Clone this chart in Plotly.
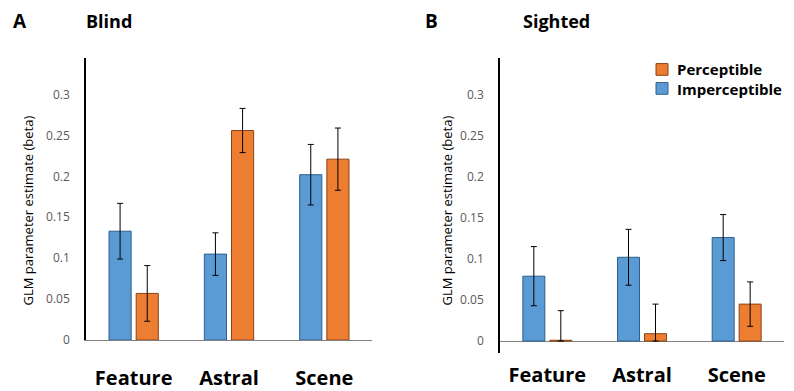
import plotly.graph_objects as go

categories = ["Feature", "Astral", "Scene"]

# Panel A - Blind
blind_imperceptible = [0.133, 0.105, 0.202]
blind_imperceptible_err = [0.034, 0.026, 0.037]
blind_perceptible = [0.057, 0.256, 0.221]
blind_perceptible_err = [0.034, 0.027, 0.038]

# Panel B - Sighted
sighted_imperceptible = [0.079, 0.102, 0.126]
sighted_imperceptible_err = [0.036, 0.034, 0.028]
sighted_perceptible = [0.001, 0.009, 0.045]
sighted_perceptible_err = [0.036, 0.036, 0.027]

yticks = [0, 0.05, 0.1, 0.15, 0.2, 0.25, 0.3]
ytick_labels = ["0", "0.05", "0.1", "0.15", "0.2", "0.25", "0.3"]

legend_names = ["Perceptible", "Imperceptible"]

BLUE = "#5B9BD5"
ORANGE = "#ED7D31"
BLUE_LINE = "#2F5F8A"
ORANGE_LINE = "#8A4317"

W, H = 794, 391


def minus(vals, errs):
    return [min(v, e) for v, e in zip(vals, errs)]


fig = go.Figure()


def add_pair(imp, imp_err, per, per_err, xa, ya):
    fig.add_trace(go.Bar(
        x=categories, y=imp, name="Imperceptible", xaxis=xa, yaxis=ya,
        marker=dict(color=BLUE, line=dict(color=BLUE_LINE, width=1)),
        error_y=dict(type="data", array=imp_err, arrayminus=minus(imp, imp_err),
                     symmetric=False, color="black", thickness=1, width=3),
        showlegend=False))
    fig.add_trace(go.Bar(
        x=categories, y=per, name="Perceptible", xaxis=xa, yaxis=ya,
        marker=dict(color=ORANGE, line=dict(color=ORANGE_LINE, width=1)),
        error_y=dict(type="data", array=per_err, arrayminus=minus(per, per_err),
                     symmetric=False, color="black", thickness=1, width=3),
        showlegend=False))


add_pair(blind_imperceptible, blind_imperceptible_err, blind_perceptible,
         blind_perceptible_err, "x", "y")
add_pair(sighted_imperceptible, sighted_imperceptible_err, sighted_perceptible,
         sighted_perceptible_err, "x2", "y2")

FONT = "Open Sans"

xcommon = dict(type="category", range=[-0.5, 2.5], showgrid=False, zeroline=False,
               ticks="",
               tickfont=dict(family=FONT, size=20, color="black", weight="bold"))
ycommon = dict(showgrid=False, tickmode="array", tickvals=yticks, ticktext=ytick_labels,
               ticks="", ticklabelstandoff=12, showline=True, linecolor="black",
               linewidth=1.5,
               tickfont=dict(family=FONT, size=12, color="#595959"))

fig.update_layout(
    width=W, height=H,
    margin=dict(l=0, r=0, t=0, b=0),
    paper_bgcolor="white", plot_bgcolor="white",
    barmode="group", bargap=0.43, bargroupgap=0.185,
    showlegend=False,
    xaxis=dict(domain=[86 / W, 372 / W], anchor="y", showline=True,
               linecolor="#808080", linewidth=1, ticklabelstandoff=20, **xcommon),
    yaxis=dict(domain=[1 - 349 / H, 1 - 60 / H], anchor="x", range=[0, 0.344],
               zeroline=False, **ycommon),
    xaxis2=dict(domain=[500 / W, 784 / W], anchor="y2", showline=False,
                ticklabelstandoff=8, **xcommon),
    yaxis2=dict(domain=[1 - 362 / H, 1 - 60 / H], anchor="x2", range=[-0.0142, 0.344],
                zeroline=True, zerolinecolor="#808080", zerolinewidth=1, **ycommon),
)

# custom legend (Perceptible above Imperceptible), one text block
LEG_FS = 15
line_h = LEG_FS * 1.3
leg_center = 81
legend_colors = [(ORANGE, ORANGE_LINE), (BLUE, BLUE_LINE)]
for i, (fc, lc) in enumerate(legend_colors):
    yc = leg_center + (i - 0.5) * line_h
    fig.add_shape(type="rect", xref="paper", yref="paper",
                  x0=656 / W, x1=668 / W, y0=1 - (yc + 6) / H, y1=1 - (yc - 6) / H,
                  fillcolor=fc, line=dict(color=lc, width=1))
fig.add_annotation(text="<br>".join(legend_names), x=675 / W, y=1 - leg_center / H,
                   xref="paper", yref="paper", xanchor="left", yanchor="middle",
                   align="left", showarrow=False,
                   font=dict(family=FONT, size=LEG_FS, color="black", weight="bold"))

ytitle = "GLM parameter estimate (beta)"
annots = [
    dict(text="A", x=11 / W, y=1 - 22 / H, size=19),
    dict(text="Blind", x=84 / W, y=1 - 22 / H, size=18),
    dict(text="B", x=423 / W, y=1 - 22 / H, size=19),
    dict(text="Sighted", x=521 / W, y=1 - 22 / H, size=18),
]
for a in annots:
    fig.add_annotation(text=a["text"], x=a["x"], y=a["y"], xref="paper", yref="paper",
                       xanchor="left", yanchor="middle", showarrow=False,
                       font=dict(family=FONT, size=a["size"], color="black", weight="bold"))
for xc in (28, 447):
    fig.add_annotation(text=ytitle, x=xc / W, y=1 - 216 / H, xref="paper", yref="paper",
                       xanchor="center", yanchor="middle", showarrow=False, textangle=-90,
                       font=dict(family=FONT, size=13, color="black"))

fig.write_html("out.html")
